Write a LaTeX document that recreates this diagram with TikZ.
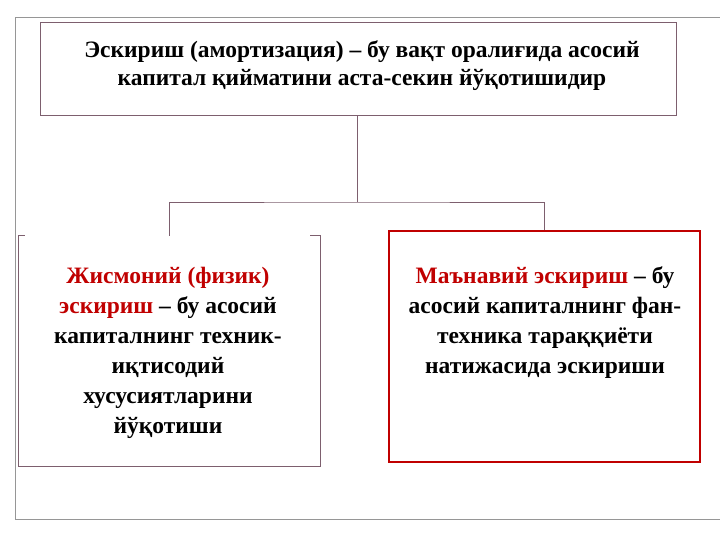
\documentclass[tikz,border=0pt]{standalone}
\usepackage{fontspec}
\setmainfont{Liberation Serif}
\usepackage{tikz}
\usetikzlibrary{positioning,calc}
\definecolor{framegray}{RGB}{150,150,150}
\definecolor{boxmauve}{RGB}{125,95,110}
\definecolor{darkred}{RGB}{192,0,0}
\newcommand{\hl}[1]{\textcolor{darkred}{#1}}

\begin{document}
\begin{tikzpicture}[x=1pt, y=-1pt,
    frame/.style={draw=boxmauve, line width=0.8pt},
    txt/.style={align=center, font=\bfseries\fontsize{23.5}{30}\selectfont}]
    \useasboundingbox (0,0) rectangle (720,540);
    % Outer frame
    \draw[framegray, line width=1pt] (725,18) -- (15,18) -- (15,519) -- (725,519);

    % Blocks
    \node[frame, minimum width=636pt, minimum height=93pt] (top) at (358,68.5) {};
    \node[align=center, font=\bfseries\fontsize{23.5}{28}\selectfont] (toptext) at (362,66)
        {Эскириш (амортизация) – бу вақт оралиғида асосий\\капитал қийматини аста-секин йўқотишидир};
    \node[minimum width=301pt, minimum height=230pt] (lbox) at (169.5,351) {};
    \node[txt] (ltext) at (168,353)
        {\hl{Жисмоний (физик)}\\\hl{эскириш} – бу асосий\\капиталнинг техник-\\иқтисодий\\хусусиятларини\\йўқотиши};
    \node[draw=darkred, line width=1.6pt, minimum width=311pt, minimum height=231pt] (rbox) at (544.5,346.5) {};
    \node[txt] (rtext) at (545,323)
        {\hl{Маънавий эскириш} – бу\\асосий капиталнинг фан-\\техника тараққиёти\\натижасида эскириши};

    % Left box outline (top edge hidden)
    \draw[frame] ([xshift=6]lbox.north west) -- (lbox.north west) -- (lbox.south west)
        -- (lbox.south east) -- (lbox.north east) -- ([xshift=-10]lbox.north east);

    % Connectors
    \coordinate (fork) at (357,202);
    \draw[frame] (top.south -| fork) -- (fork);
    \draw[frame] (lbox.north) |- (fork) -| (rbox.north);
\end{tikzpicture}
\end{document}
